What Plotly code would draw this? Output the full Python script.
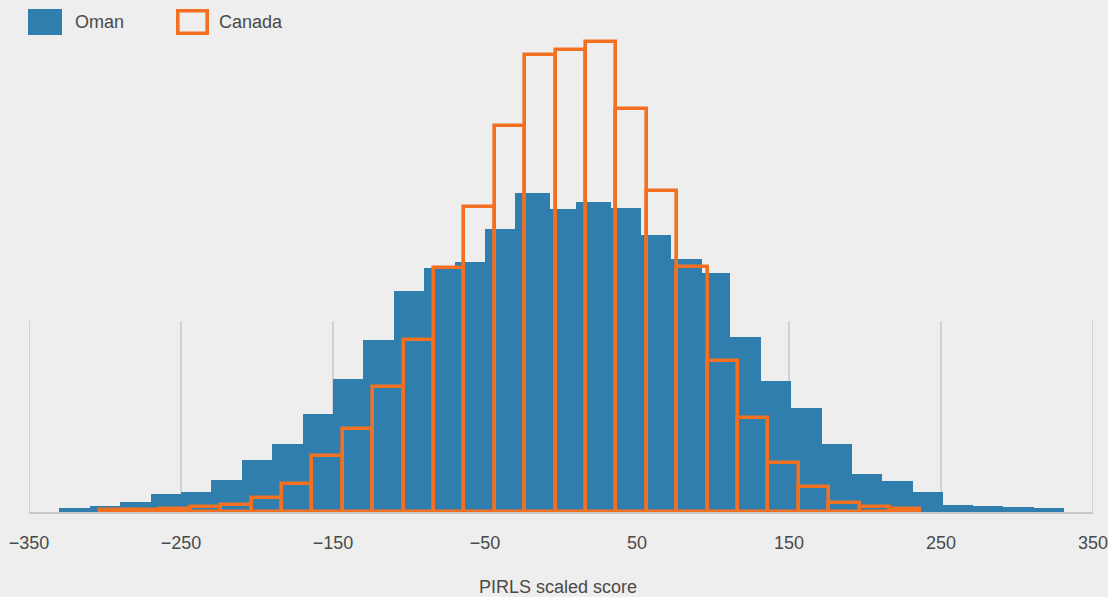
import plotly.graph_objects as go

# ---------------- data ----------------
# Oman: bin edges (PIRLS scaled score, centred) and share of students (%) per bin
oman_edges = [-330, -310, -290, -270, -250, -230, -210, -190, -170, -150, -130, -110,
              -90, -70, -50, -30, -7, 10, 33, 52.5, 72.5, 92.5, 111.5, 131.5, 151.5,
              171.5, 191.5, 211.5, 231.5, 251, 271, 291, 311, 331]
oman_pct = [0.10, 0.15, 0.23, 0.43, 0.48, 0.78, 1.26, 1.64, 2.37, 3.20, 4.15, 5.33,
            5.88, 6.02, 6.82, 7.69, 7.31, 7.48, 7.32, 6.68, 6.10, 5.76, 4.21, 3.16,
            2.51, 1.65, 0.92, 0.75, 0.48, 0.18, 0.14, 0.12, 0.10]

# Canada: bin edges and share of students (%) per bin
canada_edges = [-303.5, -283.5, -263.5, -243.5, -223.5, -203.5, -183.5, -163.5,
                -143.5, -123.5, -103.5, -83.5, -63.5, -43.5, -23.5, -3.5, 16.5,
                36.5, 56.5, 76.5, 96.5, 116.5, 136.5, 156.5, 176.5, 196.5, 216.5, 236.5]
canada_pct = [0.04, 0.04, 0.07, 0.13, 0.18, 0.34, 0.68, 1.36, 2.00, 3.01, 4.14, 5.88,
              7.34, 9.30, 11.01, 11.13, 11.32, 9.72, 7.74, 5.90, 3.65, 2.26, 1.19,
              0.61, 0.21, 0.12, 0.07]

tick_vals = [-350, -250, -150, -50, 50, 150, 250, 350]
tick_text = ["\u2212350", "\u2212250", "\u2212150", "\u221250", "50", "150", "250", "350"]
series_names = ["Oman", "Canada"]
x_title = "PIRLS scaled score"

# ---------------- styling ----------------
BG = "#eeeeee"
BLUE = "#2f7eae"
ORANGE = "#f37021"
TEXT = "#4a4a4a"
GRID = "#c8c8c8"

W, H = 1108, 597
ML, MR, MT, MB = 29, 15, 14, 85
PW, PH = W - ML - MR, H - MT - MB
Y_MAX = 12.0


def centers_widths(edges):
    c = [(a + b) / 2 for a, b in zip(edges[:-1], edges[1:])]
    w = [b - a for a, b in zip(edges[:-1], edges[1:])]
    return c, w


def px_x(p):
    return (p - ML) / PW


def px_y(p):
    return (H - MB - p) / PH


oc, ow = centers_widths(oman_edges)
cc, cw = centers_widths(canada_edges)

fig = go.Figure()
fig.add_trace(go.Bar(x=oc, y=oman_pct, width=ow, name=series_names[0],
                     marker=dict(color=BLUE, line=dict(width=0)),
                     showlegend=False, hoverinfo="x+y"))
fig.add_trace(go.Bar(x=cc, y=canada_pct, width=cw, name=series_names[1],
                     marker=dict(color="rgba(0,0,0,0)", line=dict(color=ORANGE, width=3.6)),
                     showlegend=False, hoverinfo="x+y"))

shapes = []
# partial vertical grid lines at tick positions
for tv in tick_vals:
    shapes.append(dict(type="line", xref="x", yref="y", x0=tv, x1=tv, y0=0,
                       y1=(H - MB - 321) / PH * Y_MAX,
                       line=dict(color=GRID, width=1.5), layer="below"))
# legend swatches
shapes.append(dict(type="rect", xref="paper", yref="paper",
                   x0=px_x(28), x1=px_x(62), y0=px_y(35), y1=px_y(9),
                   fillcolor=BLUE, line=dict(width=0)))
shapes.append(dict(type="rect", xref="paper", yref="paper",
                   x0=px_x(177.8), x1=px_x(207.2), y0=px_y(33.2), y1=px_y(10.8),
                   fillcolor="rgba(0,0,0,0)", line=dict(color=ORANGE, width=3.6)))

annotations = [
    dict(text=series_names[0], xref="paper", yref="paper", x=px_x(73), y=px_y(22.5),
         xanchor="left", yanchor="middle", showarrow=False,
         font=dict(size=18, color=TEXT)),
    dict(text=series_names[1], xref="paper", yref="paper", x=px_x(217), y=px_y(22.5),
         xanchor="left", yanchor="middle", showarrow=False,
         font=dict(size=18, color=TEXT)),
    dict(text=x_title, xref="paper", yref="paper", x=px_x(558), y=px_y(587),
         xanchor="center", yanchor="middle", showarrow=False,
         font=dict(size=18, color=TEXT)),
]

fig.update_layout(
    width=W, height=H,
    margin=dict(l=ML, r=MR, t=MT, b=MB, pad=0, autoexpand=False),
    paper_bgcolor=BG, plot_bgcolor=BG,
    barmode="overlay", bargap=0,
    font=dict(family="Liberation Sans, Arial, sans-serif", size=18, color=TEXT),
    shapes=shapes, annotations=annotations,
    showlegend=False,
    xaxis=dict(range=[-350, 350], tickvals=tick_vals, ticktext=tick_text,
               showgrid=False, zeroline=False, showline=True, linecolor=GRID,
               linewidth=1.5, ticks="outside", ticklen=14,
               tickcolor="rgba(0,0,0,0)", tickfont=dict(size=18, color=TEXT),
               ticklabeloverflow="allow", automargin=False, fixedrange=True),
    yaxis=dict(range=[0, Y_MAX], showgrid=False, zeroline=False, showline=False,
               showticklabels=False, ticks="", automargin=False, fixedrange=True),
)

fig.write_html(
    "out.html",
    config={"displayModeBar": False},
    post_script="document.body.style.margin='0';document.body.style.overflow='hidden';"
                "document.body.style.background='" + BG + "';",
)
